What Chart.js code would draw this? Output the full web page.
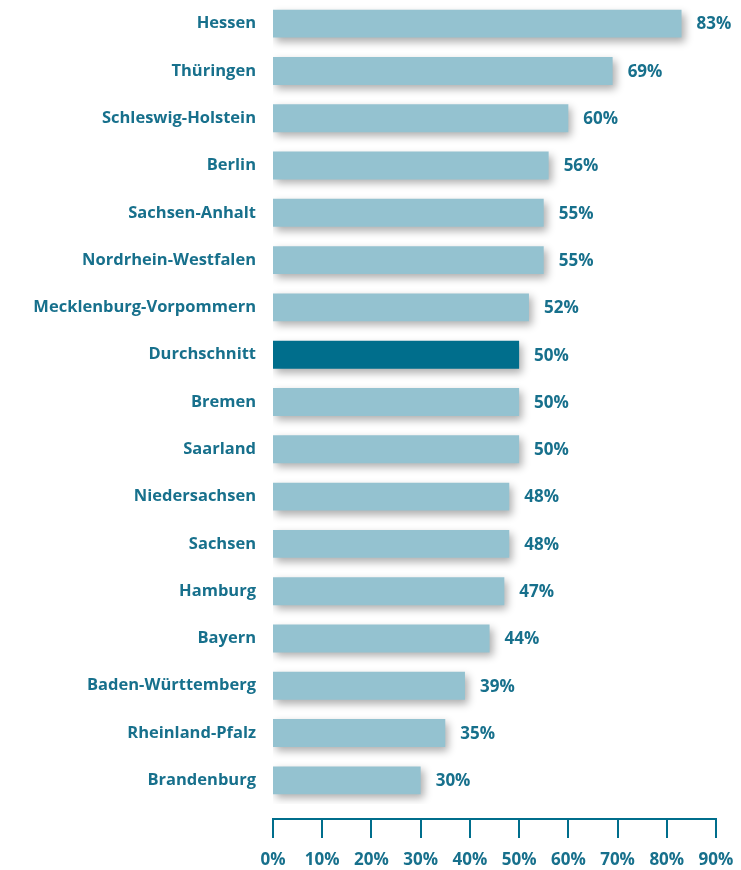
<!DOCTYPE html>
<html lang="de">
<head>
<meta charset="utf-8">
<title>Anteil nach Bundesland</title>
<script src="https://cdn.jsdelivr.net/npm/chart.js@4.4.1/dist/chart.umd.min.js"></script>
<style>
	html, body { margin: 0; padding: 0; background: #fff; }
	#grafico { width: 741px; height: 870px; position: relative; }
</style>
</head>
<body>
<div id="grafico"><canvas id="graficoLaender"></canvas></div>
<script>
var laender = ['Hessen', 'Thüringen', 'Schleswig-Holstein', 'Berlin', 'Sachsen-Anhalt',
	'Nordrhein-Westfalen', 'Mecklenburg-Vorpommern', 'Durchschnitt', 'Bremen', 'Saarland',
	'Niedersachsen', 'Sachsen', 'Hamburg', 'Bayern', 'Baden-Württemberg', 'Rheinland-Pfalz', 'Brandenburg'];
var werte = [83, 69, 60, 56, 55, 55, 52, 50, 50, 50, 48, 48, 47, 44, 39, 35, 30];
var achseTicks = [0, 10, 20, 30, 40, 50, 60, 70, 80, 90];
var hervorgehoben = 'Durchschnitt';

var Grafico = Grafico || {};

Grafico.Balken = (function() {

	var TEXTFARBE = '#17708c';
	var HELL = '#94c2d0';
	var DUNKEL = '#006e8c';
	var SCHRIFT = '"Open Sans", "DejaVu Sans", sans-serif';

	function Balken() {
		this.ctx = document.getElementById('graficoLaender').getContext('2d');
	}

	// shadow under each bar
	var schatten = {
		id: 'schatten',
		beforeDatasetsDraw: function(chart) {
			var c = chart.ctx;
			c.save();
			c.shadowColor = 'rgba(0,0,0,0.32)';
			c.shadowBlur = 8;
			c.shadowOffsetX = 3;
			c.shadowOffsetY = 4;
		},
		afterDatasetsDraw: function(chart) {
			chart.ctx.restore();
		}
	};

	// percent labels to the right of the bars
	var werteLabels = {
		id: 'werteLabels',
		afterDatasetsDraw: function(chart) {
			var c = chart.ctx;
			var meta = chart.getDatasetMeta(0);
			c.save();
			c.fillStyle = TEXTFARBE;
			c.font = 'bold 17px ' + SCHRIFT;
			c.textAlign = 'left';
			c.textBaseline = 'middle';
			meta.data.forEach(function(bar, i) {
				c.fillText(werte[i] + '%', bar.x + 15, bar.y + 1);
			});
			c.restore();
		}
	};

	// x axis line sits a bit below the plot, ticks hang down from it
	var achse = {
		id: 'achse',
		afterDraw: function(chart) {
			var c = chart.ctx;
			var x = chart.scales.x;
			var y0 = 819;
			c.save();
			c.strokeStyle = DUNKEL;
			c.lineWidth = 2;
			c.beginPath();
			c.moveTo(x.getPixelForValue(0) - 1, y0);
			c.lineTo(x.getPixelForValue(90) + 1, y0);
			achseTicks.forEach(function(t) {
				var px = Math.round(x.getPixelForValue(t));
				c.moveTo(px, y0);
				c.lineTo(px, y0 + 19);
			});
			c.stroke();
			c.restore();
		}
	};

	Balken.prototype.iniciar = function() {
		new Chart(this.ctx, {
			type: 'bar',
			data: {
				labels: laender,
				datasets: [{
					data: werte,
					backgroundColor: laender.map(function(l) { return l === hervorgehoben ? DUNKEL : HELL; }),
					borderWidth: 0,
					barPercentage: 0.59,
					categoryPercentage: 1
				}]
			},
			options: {
				indexAxis: 'y',
				responsive: true,
				maintainAspectRatio: false,
				animation: false,
				layout: { padding: { top: -5, right: 25, left: 0, bottom: 0 } },
				plugins: {
					legend: { display: false },
					tooltip: { enabled: false }
				},
				scales: {
					x: {
						min: 0,
						max: 90,
						afterFit: function(s) {
							s.height = 66;
							s.paddingLeft = 0;
							s.paddingRight = 0;
						},
						afterBuildTicks: function(s) {
							s.ticks = achseTicks.map(function(v) { return { value: v }; });
						},
						grid: { display: false, drawTicks: false },
						border: { display: false },
						ticks: {
							padding: 46,
							maxRotation: 0,
							color: TEXTFARBE,
							font: { family: SCHRIFT, size: 17, weight: 'bold' },
							callback: function(v) { return v + '%'; }
						}
					},
					y: {
						afterFit: function(s) {
							s.width = 273;
							s.paddingTop = 0;
							s.paddingBottom = 0;
						},
						grid: { display: false, drawTicks: false },
						border: { display: false },
						ticks: {
							padding: 17,
							color: TEXTFARBE,
							font: { family: SCHRIFT, size: 16.5, weight: 'bold' }
						}
					}
				}
			},
			plugins: [schatten, werteLabels, achse]
		});
	};

	return Balken;

}());

var balken = new Grafico.Balken();
balken.iniciar();
</script>
</body>
</html>
